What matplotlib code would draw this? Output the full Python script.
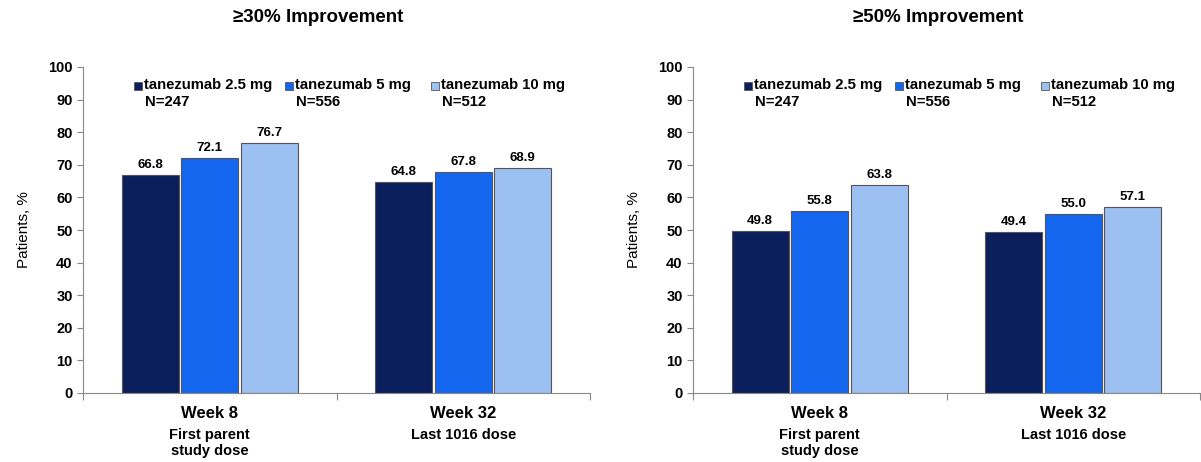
import numpy as np
import matplotlib.pyplot as plt
from matplotlib.patches import Rectangle

# datos
groups = ["Week 8", "Week 32"]
subs = ["First parent\nstudy dose", "Last 1016 dose"]
series = ["tanezumab 2.5 mg", "tanezumab 5 mg", "tanezumab 10 mg"]
ns = ["N=247", "N=556", "N=512"]
imp30 = [[66.8, 64.8], [72.1, 67.8], [76.7, 68.9]]
imp50 = [[49.8, 49.4], [55.8, 55.0], [63.8, 57.1]]
titles = ["\u226530% Improvement", "\u226550% Improvement"]
colors = ["#0b1f5c", "#1566ee", "#9dc0f2"]

plt.rcParams['font.family'] = ['Liberation Sans', 'DejaVu Sans']
W, H = 1201, 462
fig = plt.figure(figsize=(W/100, H/100), dpi=100)
ax1 = fig.add_axes([83/W, 1-393/H, 507/W, 326/H])
ax2 = fig.add_axes([693/W, 1-393/H, 507/W, 326/H])

# posiciones de la leyenda (px desde el borde izquierdo del eje)
leg_x = [51, 202, 348]
title_x = [318, 938]

x = np.arange(len(groups))
w = 0.225
for k, (ax, data, title) in enumerate(zip([ax1, ax2], [imp30, imp50], titles)):
    for i, vals in enumerate(data):
        pos = x + (i-1)*0.235
        ax.bar(pos, vals, w, color=colors[i], edgecolor="#555555", linewidth=0.8)
        for p, v in zip(pos, vals):
            ax.text(p, v+1.2, "%.1f" % v, ha="center", va="bottom", fontsize=9.5, fontweight="bold")
    ax.set_xlim(-0.5, 1.5)
    ax.set_ylim(0, 100)
    ax.set_yticks(range(0, 101, 10))
    ax.set_xticks([-0.5, 0.5, 1.5])
    ax.set_xticklabels([])
    ax.tick_params(axis="y", labelsize=10.5, length=4, color="#888888")
    ax.tick_params(axis="x", length=5, color="#888888")
    for lab in ax.get_yticklabels():
        lab.set_fontweight("bold")
    for s in ["top", "right"]:
        ax.spines[s].set_visible(False)
    ax.spines["left"].set_color("#888888")
    ax.spines["bottom"].set_color("#888888")
    ax.set_ylabel("Patients, %", fontsize=11, labelpad=12)
    fig.text(title_x[k]/W, 1-18/H, title, ha="center", va="center", fontsize=13.5, fontweight="bold")
    for xi, g, s in zip(x, groups, subs):
        ax.text(xi, -4, g, ha="center", va="top", fontsize=12, fontweight="bold")
        ax.text(xi, -10.8, s, ha="center", va="top", fontsize=10.5, fontweight="bold",
                linespacing=1.2)
    # leyenda manual
    for i in range(3):
        fx = leg_x[i]/507
        ax.add_patch(Rectangle((fx, 1-22.5/326), 8/507, 8/326, transform=ax.transAxes,
                               facecolor=colors[i], edgecolor="#555555", linewidth=0.6,
                               clip_on=False))
        ax.text(fx+10/507, 1-18/326, series[i], transform=ax.transAxes, ha="left", va="center",
                fontsize=10.7, fontweight="bold")
        ax.text(fx+11/507, 1-35/326, ns[i], transform=ax.transAxes, ha="left", va="center",
                fontsize=10.7, fontweight="bold")

plt.savefig("out.png", dpi=100)
